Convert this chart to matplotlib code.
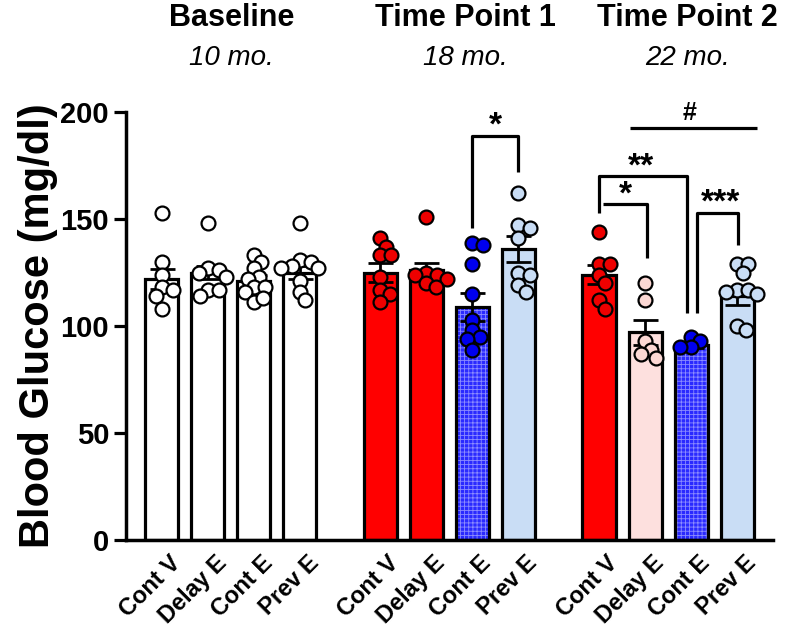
import matplotlib
matplotlib.use("Agg")
import matplotlib.pyplot as plt
import matplotlib.transforms as mtrans
import numpy as np

plt.rcParams['font.family'] = ['Liberation Sans', 'DejaVu Sans']
plt.rcParams['hatch.linewidth'] = 0.6

labels = ["Cont V", "Delay E", "Cont E", "Prev E"]
headers = ["Baseline", "Time Point 1", "Time Point 2"]
ages = ["10 mo.", "18 mo.", "22 mo."]

base_mean = [122, 125, 121, 125]
tp1_mean = [125, 126, 109, 136]
tp2_mean = [124, 97, 91, 114]

base_sem = [4.5, 3, 3, 3]
tp1_sem = [4.5, 3.5, 6.5, 6]
tp2_sem = [4.5, 6, 1.5, 4]

base_pts = [
    [153, 130, 124, 118, 117, 114, 108],
    [148, 127, 126, 125, 123, 117, 117, 114],
    [133, 130, 127, 123, 122, 118, 118, 116, 111, 113],
    [148, 131, 130, 128, 127, 127, 121, 116, 112],
]
tp1_pts = [
    [141, 137, 133, 133, 123, 117, 115, 111],
    [151, 125, 124, 124, 122, 120, 118],
    [139, 138, 129, 115, 103, 98, 95, 94, 89],
    [162, 147, 146, 141, 125, 124, 119, 116],
]
tp2_pts = [
    [144, 129, 129, 124, 120, 112, 108],
    [120, 112, 93, 89, 87, 85],
    [95, 93, 90, 90],
    [129, 129, 125, 117, 117, 116, 115, 100, 98],
]

white = dict(fc="white", pt="white", hatch=None)
red = dict(fc="#ff0000", pt="#ee0000", hatch=None)
pink = dict(fc="#fde0de", pt="#fcd8d4", hatch=None)
blue = dict(fc="#2a2aff", pt="#0000ee", hatch="++++")
lblue = dict(fc="#c9ddf5", pt="#c9ddf5", hatch=None)

group_styles = [
    [white, white, white, white],
    [red, red, blue, lblue],
    [red, pink, blue, lblue],
]
group_means = [base_mean, tp1_mean, tp2_mean]
group_sems = [base_sem, tp1_sem, tp2_sem]
group_pts = [base_pts, tp1_pts, tp2_pts]
group_starts = [0, 4.75, 9.5]


def swarm(vals, dx=0.29, dy=6.3, gap=0.72):
    # simple beeswarm: smallest offset that keeps points from piling up
    placed = []
    offs = []
    cand = [0.0]
    for k in range(1, 30):
        cand += [k * 0.04, -k * 0.04]
    for v in vals:
        for c in cand:
            if all(np.hypot((c - px) / dx, (v - py) / dy) >= gap for px, py in placed):
                placed.append((c, v))
                offs.append(c)
                break
    return np.array(offs)


fig = plt.figure(figsize=(7.86, 6.33), dpi=100)
ax = fig.add_axes([0.160, 0.147, 0.823, 0.676])

xticks = []
xlabels = []
for g in range(3):
    for i in range(4):
        x = group_starts[g] + i
        st = group_styles[g][i]
        m = group_means[g][i]
        s = group_sems[g][i]
        if st["hatch"]:
            ax.bar(x, m, width=0.72, color=st["fc"], hatch=st["hatch"],
                   edgecolor="#8c8cff", linewidth=0, zorder=1)
            ax.bar(x, m, width=0.72, fill=False, edgecolor="black",
                   linewidth=2.3, zorder=2)
        else:
            ax.bar(x, m, width=0.72, color=st["fc"], edgecolor="black",
                   linewidth=2.3, zorder=2)
        ax.errorbar(x, m, yerr=s, color="black", capsize=9, capthick=2,
                    elinewidth=2, zorder=3)
        vals = np.array(group_pts[g][i], dtype=float)
        offs = swarm(vals)
        ax.scatter(x + offs, vals, s=100, color=st["pt"], edgecolor="black",
                   linewidth=1.6, zorder=4, clip_on=False)
        xticks.append(x)
        xlabels.append(labels[i])

ax.set_xlim(-0.78, 13.27)
ax.set_ylim(0, 200)
ax.set_yticks([0, 50, 100, 150, 200])
ax.set_xticks(xticks)
ax.set_xticklabels(xlabels, rotation=45, ha="right", va="top",
                   rotation_mode="anchor", fontsize=17, fontweight="bold")
ax.tick_params(axis="x", length=0, pad=4)
ax.tick_params(axis="y", length=9, width=2.3, labelsize=21, pad=3)
for t in ax.get_yticklabels():
    t.set_fontweight("bold")
shift = mtrans.ScaledTranslation(7 / 100, -6 / 100, fig.dpi_scale_trans)
for t in ax.get_xticklabels():
    t.set_transform(t.get_transform() + shift)
for sp in ["top", "right"]:
    ax.spines[sp].set_visible(False)
for sp in ["left", "bottom"]:
    ax.spines[sp].set_linewidth(2.5)
ax.set_ylabel("Blood Glucose (mg/dl)", fontsize=30, fontweight="bold", labelpad=2)

# significance brackets
kw = dict(color="black", lw=2.3, clip_on=False, solid_capstyle="butt")
ax.plot([6.75, 6.75, 7.75, 7.75], [146, 189, 189, 172], **kw)
ax.text(7.25, 186, "*", ha="center", va="bottom", fontsize=24, fontweight="bold")

ax.plot([10.17, 12.93], [192.5, 192.5], **kw)
ax.text(11.46, 194, "#", ha="center", va="bottom", fontsize=18, fontweight="bold")

ax.plot([9.5, 9.5, 11.41, 11.41], [153, 170, 170, 106], **kw)
ax.text(10.41, 167, "**", ha="center", va="bottom", fontsize=24, fontweight="bold")

ax.plot([9.59, 10.54, 10.54], [157, 157, 132], **kw)
ax.text(10.07, 154, "*", ha="center", va="bottom", fontsize=24, fontweight="bold")

ax.plot([11.63, 11.63, 12.52, 12.52], [106, 153, 153, 138], **kw)
ax.text(12.13, 150, "***", ha="center", va="bottom", fontsize=24, fontweight="bold")

# headers
hx = [0.295, 0.592, 0.875]
for h, a, x in zip(headers, ages, hx):
    fig.text(x, 0.972, h, ha="center", va="center", fontsize=22, fontweight="bold")
    fig.text(x, 0.908, a, ha="center", va="center", fontsize=20, style="italic")

fig.savefig("out.png", dpi=100)
